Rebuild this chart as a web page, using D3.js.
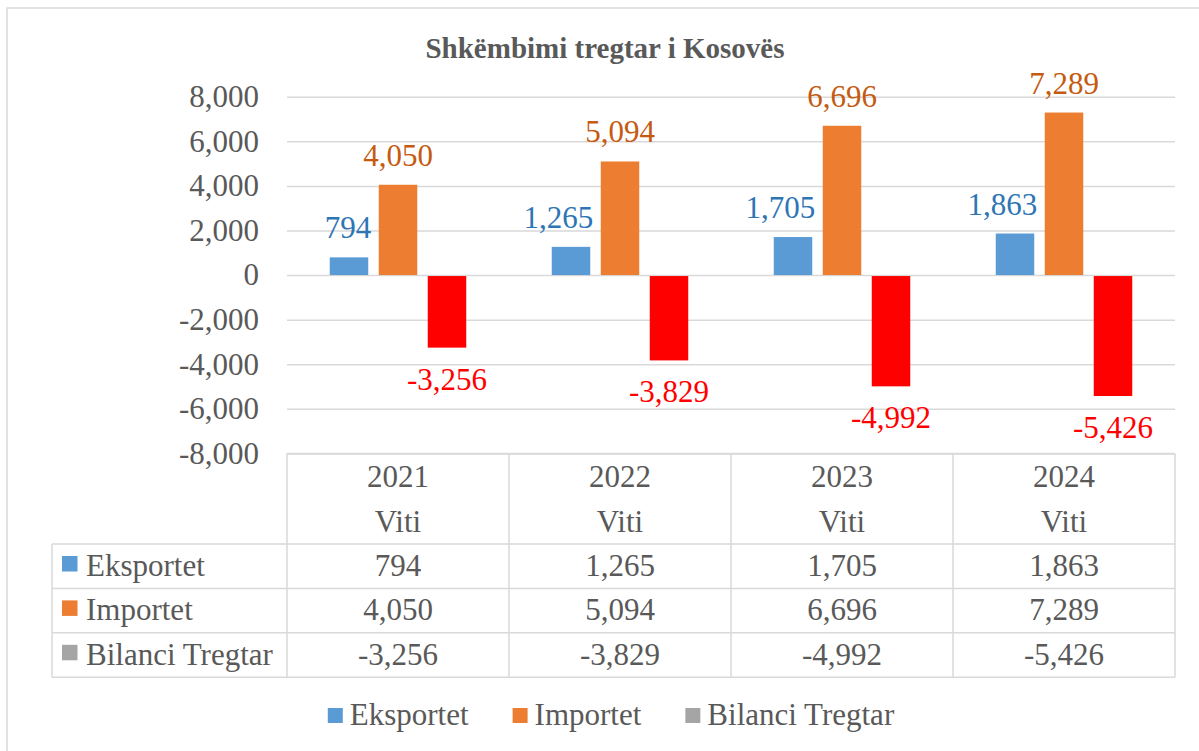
<!DOCTYPE html>
<head>
<meta charset="utf-8">
<style>
body { margin: 0; background: #fff; }
svg { display: block; }
text { font-family: "Liberation Serif", "Times New Roman", serif; fill: #595959; }
.grid line { stroke: #d9d9d9; stroke-width: 1.5; }
.grid text { font-size: 31px; fill: #595959; }
.cell { font-size: 31px; }
.tbl { stroke: #d9d9d9; stroke-width: 1.5; fill: none; }
</style>
</head>
<body>
<svg width="1199" height="751"></svg>
<script src="https://cdn.jsdelivr.net/npm/d3@7"></script>
<script type="text/javascript">

// data
var years = ["2021", "2022", "2023", "2024"];
var yearSub = "Viti";
var seriesNames = ["Eksportet", "Importet", "Bilanci Tregtar"];
var eksportet = [794, 1265, 1705, 1863];
var importet = [4050, 5094, 6696, 7289];
var bilanci = [-3256, -3829, -4992, -5426];
var yTicks = [-8000, -6000, -4000, -2000, 0, 2000, 4000, 6000, 8000];
var title = "Shkëmbimi tregtar i Kosovës";

var seriesValues = [eksportet, importet, bilanci];
var barColors = ["#5b9bd5", "#ed7d31", "#ff0000"];
var keyColors = ["#5b9bd5", "#ed7d31", "#a5a5a5"];
var labelColors = ["#2e75b6", "#c55a11", "#ff0000"];

// plain hyphen for negatives, like Excel
var fmt = d3.formatLocale({decimal: ".", thousands: ",", grouping: [3], currency: ["", ""], minus: "-"}).format(",");

var svg = d3.select("svg");

// chart frame (only top/left edges show)
svg.append("rect")
  .attr("x", 7).attr("y", 8)
  .attr("width", 1220).attr("height", 780)
  .attr("fill", "#fff")
  .attr("stroke", "#d9d9d9")
  .attr("stroke-width", 1.5);

svg.append("text")
  .attr("x", 605).attr("y", 58)
  .attr("text-anchor", "middle")
  .style("font-size", "29px")
  .style("font-weight", "bold")
  .text(title);

var plotL = 287, plotR = 1175;

var x = d3.scaleBand().domain(years).range([plotL, plotR]).padding(0);
var y = d3.scaleLinear().domain([-8000, 8000]).range([453.4, 96.7]);

// gridlines + y labels
var yAxis = d3.axisLeft(y)
  .tickValues(yTicks)
  .tickFormat(fmt)
  .tickSizeInner(-(plotR - plotL))
  .tickSizeOuter(0)
  .tickPadding(28);

svg.append("g")
  .attr("class", "grid")
  .attr("transform", "translate(" + plotL + ",0)")
  .call(yAxis)
  .call(function(g){ g.select(".domain").remove(); })
  .call(function(g){ g.selectAll("text").style("font-family", "Liberation Serif, serif"); });

// bars
var barW = 38.5, barGap = 10.5;
var groupW = 3 * barW + 2 * barGap;
var inner = d3.scaleBand()
  .domain(d3.range(seriesNames.length))
  .range([0, groupW])
  .paddingInner(barGap / (barW + barGap))
  .paddingOuter(0);

var bars = [];
seriesValues.forEach(function(vals, s){
  vals.forEach(function(v, i){
    bars.push({s: s, i: i, year: years[i], value: v});
  });
});

function barX(d){
  return x(d.year) + (x.bandwidth() - groupW) / 2 + inner(d.s);
}

svg.append("g")
  .selectAll("rect")
  .data(bars)
  .enter().append("rect")
  .attr("x", barX)
  .attr("y", function(d){ return d.value >= 0 ? y(d.value) : y(0) + 1; })
  .attr("width", inner.bandwidth())
  .attr("height", function(d){ return d.value >= 0 ? y(0) - y(d.value) : y(d.value) - y(0) - 1; })
  .attr("fill", function(d){ return barColors[d.s]; });

// data labels
svg.append("g")
  .selectAll("text")
  .data(bars)
  .enter().append("text")
  .attr("class", "cell")
  .attr("y", function(d){ return d.value >= 0 ? y(d.value) - 19 : y(d.value) + 42; })
  .attr("text-anchor", "middle")
  .style("fill", function(d){ return labelColors[d.s]; })
  .text(function(d){ return fmt(d.value); })
  .attr("x", function(d){
    var cx = barX(d) + inner.bandwidth() / 2;
    var next = seriesValues[d.s + 1];
    // keep label clear of a taller neighbouring bar
    if (d.value >= 0 && next && next[d.i] > d.value) {
      var w = this.getComputedTextLength();
      var maxRight = barX(d) + inner.bandwidth() + 3;
      if (cx + w / 2 > maxRight) cx = maxRight - w / 2;
    }
    return cx;
  });

// data table
var tTop = 453.4, headBot = 544, rowH = 44.4, tblL = 52;
var rowsBot = headBot + rowH * seriesNames.length;
var tbl = svg.append("g");

// horizontal lines
tbl.append("line").attr("class", "tbl")
  .attr("x1", plotL).attr("x2", plotR).attr("y1", tTop).attr("y2", tTop);
d3.range(seriesNames.length + 1).forEach(function(r){
  var yy = headBot + r * rowH;
  tbl.append("line").attr("class", "tbl")
    .attr("x1", tblL).attr("x2", plotR).attr("y1", yy).attr("y2", yy);
});
// vertical lines
tbl.append("line").attr("class", "tbl")
  .attr("x1", tblL).attr("x2", tblL).attr("y1", headBot).attr("y2", rowsBot);
years.forEach(function(yr){
  tbl.append("line").attr("class", "tbl")
    .attr("x1", x(yr)).attr("x2", x(yr)).attr("y1", tTop).attr("y2", rowsBot);
});
tbl.append("line").attr("class", "tbl")
  .attr("x1", plotR).attr("x2", plotR).attr("y1", tTop).attr("y2", rowsBot);

// header
years.forEach(function(yr){
  var cx = x(yr) + x.bandwidth() / 2;
  tbl.append("text").attr("class", "cell")
    .attr("x", cx).attr("y", 487).attr("text-anchor", "middle").text(yr);
  tbl.append("text").attr("class", "cell")
    .attr("x", cx).attr("y", 532).attr("text-anchor", "middle").text(yearSub);
});

// rows
seriesNames.forEach(function(name, s){
  var top = headBot + s * rowH;
  tbl.append("rect")
    .attr("x", 62).attr("y", top + 12)
    .attr("width", 15.5).attr("height", 15.5)
    .attr("fill", keyColors[s]);
  tbl.append("text").attr("class", "cell")
    .attr("x", 86).attr("y", top + 32).text(name);
  seriesValues[s].forEach(function(v, i){
    tbl.append("text").attr("class", "cell")
      .attr("x", x(years[i]) + x.bandwidth() / 2)
      .attr("y", top + 32)
      .attr("text-anchor", "middle")
      .text(fmt(v));
  });
});

// legend
var legend = svg.append("g");
var items = legend.selectAll("g")
  .data(seriesNames)
  .enter().append("g");
items.append("rect")
  .attr("y", 708).attr("width", 15).attr("height", 15)
  .attr("fill", function(d, i){ return keyColors[i]; });
items.append("text")
  .attr("class", "cell")
  .attr("x", 22).attr("y", 725)
  .text(String);

var offs = 0, pos = [];
items.each(function(){
  var w = 22 + d3.select(this).select("text").node().getComputedTextLength();
  pos.push(offs);
  offs += w + 44;
});
var totalW = offs - 44;
var startX = 611 - totalW / 2;
items.attr("transform", function(d, i){ return "translate(" + (startX + pos[i]) + ",0)"; });

</script>
</body>
